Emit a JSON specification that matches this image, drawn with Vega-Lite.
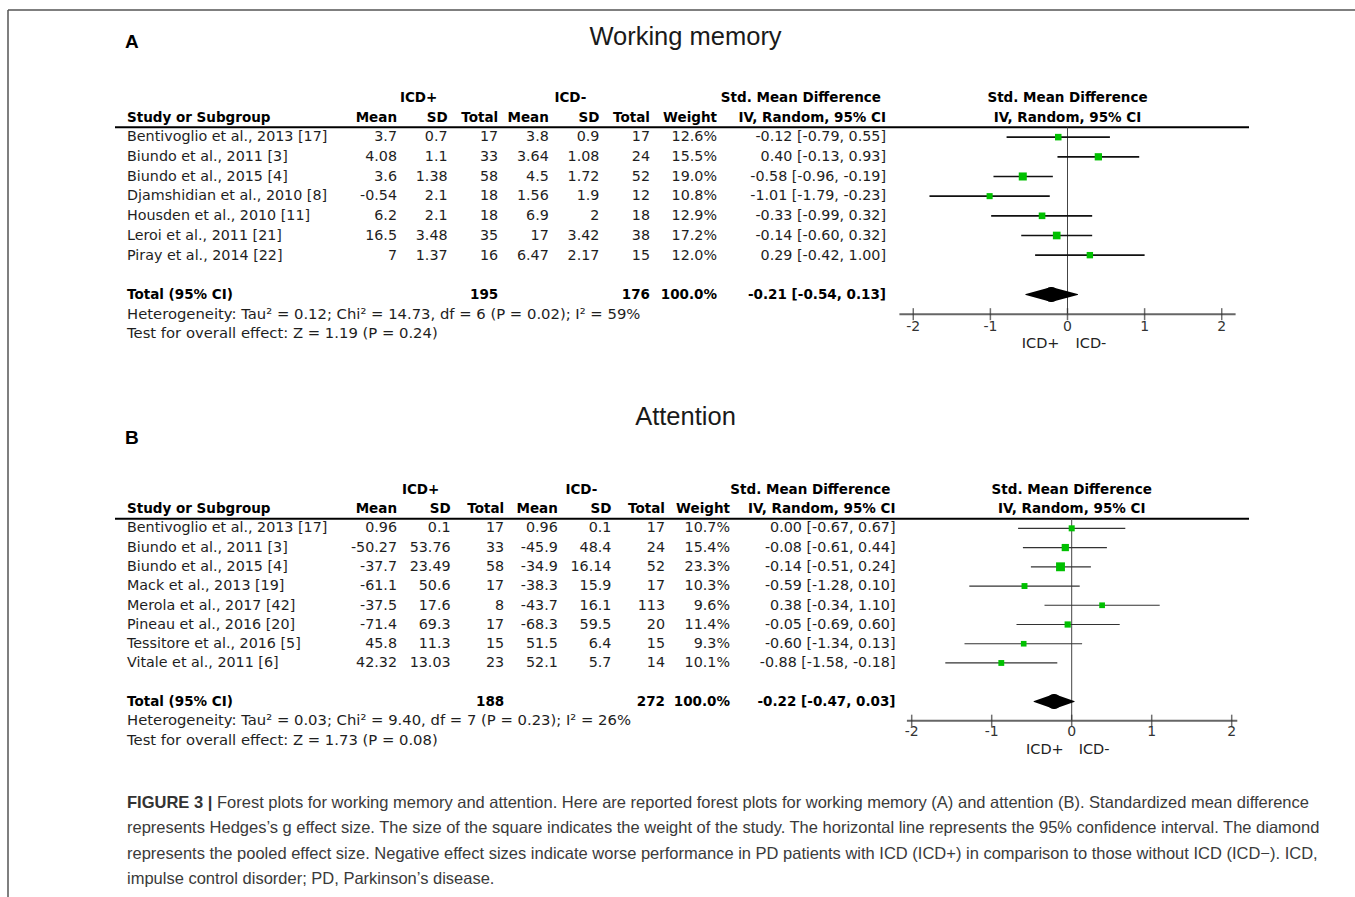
{
"$schema": "https://vega.github.io/schema/vega-lite/v6.json",
"width": 1347, "height": 887,
"autosize": {"type": "none"},
"padding": {"left": 8, "top": 10, "right": 0, "bottom": 0},
"background": "white",
"datasets": {
"tabA": [
{"r":"h1","sd1":"ICD+","sd2":"ICD-","ci":"Std. Mean Difference","fp":"Std. Mean Difference"},
{"r":"h2","study":"Study or Subgroup","m1":"Mean","sd1":"SD","n1":"Total","m2":"Mean","sd2":"SD","n2":"Total","w":"Weight","ci":"IV, Random, 95% CI","fp":"IV, Random, 95% CI"},
{"r":"s1","study":"Bentivoglio et al., 2013 [17]","m1":"3.7","sd1":"0.7","n1":"17","m2":"3.8","sd2":"0.9","n2":"17","w":"12.6%","ci":"-0.12 [-0.79, 0.55]","est":-0.12,"lo":-0.79,"hi":0.55,"wt":12.6},
{"r":"s2","study":"Biundo et al., 2011 [3]","m1":"4.08","sd1":"1.1","n1":"33","m2":"3.64","sd2":"1.08","n2":"24","w":"15.5%","ci":"0.40 [-0.13, 0.93]","est":0.40,"lo":-0.13,"hi":0.93,"wt":15.5},
{"r":"s3","study":"Biundo et al., 2015 [4]","m1":"3.6","sd1":"1.38","n1":"58","m2":"4.5","sd2":"1.72","n2":"52","w":"19.0%","ci":"-0.58 [-0.96, -0.19]","est":-0.58,"lo":-0.96,"hi":-0.19,"wt":19.0},
{"r":"s4","study":"Djamshidian et al., 2010 [8]","m1":"-0.54","sd1":"2.1","n1":"18","m2":"1.56","sd2":"1.9","n2":"12","w":"10.8%","ci":"-1.01 [-1.79, -0.23]","est":-1.01,"lo":-1.79,"hi":-0.23,"wt":10.8},
{"r":"s5","study":"Housden et al., 2010 [11]","m1":"6.2","sd1":"2.1","n1":"18","m2":"6.9","sd2":"2","n2":"18","w":"12.9%","ci":"-0.33 [-0.99, 0.32]","est":-0.33,"lo":-0.99,"hi":0.32,"wt":12.9},
{"r":"s6","study":"Leroi et al., 2011 [21]","m1":"16.5","sd1":"3.48","n1":"35","m2":"17","sd2":"3.42","n2":"38","w":"17.2%","ci":"-0.14 [-0.60, 0.32]","est":-0.14,"lo":-0.60,"hi":0.32,"wt":17.2},
{"r":"s7","study":"Piray et al., 2014 [22]","m1":"7","sd1":"1.37","n1":"16","m2":"6.47","sd2":"2.17","n2":"15","w":"12.0%","ci":"0.29 [-0.42, 1.00]","est":0.29,"lo":-0.42,"hi":1.00,"wt":12.0},
{"r":"total","study":"Total (95% CI)","n1":"195","n2":"176","w":"100.0%","ci":"-0.21 [-0.54, 0.13]","est":-0.21,"lo":-0.54,"hi":0.13},
{"r":"het","study":"Heterogeneity: Tau² = 0.12; Chi² = 14.73, df = 6 (P = 0.02); I² = 59%"},
{"r":"test","study":"Test for overall effect: Z = 1.19 (P = 0.24)"}
],
"tabB": [
{"r":"h1","sd1":"ICD+","sd2":"ICD-","ci":"Std. Mean Difference","fp":"Std. Mean Difference"},
{"r":"h2","study":"Study or Subgroup","m1":"Mean","sd1":"SD","n1":"Total","m2":"Mean","sd2":"SD","n2":"Total","w":"Weight","ci":"IV, Random, 95% CI","fp":"IV, Random, 95% CI"},
{"r":"s1","study":"Bentivoglio et al., 2013 [17]","m1":"0.96","sd1":"0.1","n1":"17","m2":"0.96","sd2":"0.1","n2":"17","w":"10.7%","ci":"0.00 [-0.67, 0.67]","est":0.00,"lo":-0.67,"hi":0.67,"wt":10.7},
{"r":"s2","study":"Biundo et al., 2011 [3]","m1":"-50.27","sd1":"53.76","n1":"33","m2":"-45.9","sd2":"48.4","n2":"24","w":"15.4%","ci":"-0.08 [-0.61, 0.44]","est":-0.08,"lo":-0.61,"hi":0.44,"wt":15.4},
{"r":"s3","study":"Biundo et al., 2015 [4]","m1":"-37.7","sd1":"23.49","n1":"58","m2":"-34.9","sd2":"16.14","n2":"52","w":"23.3%","ci":"-0.14 [-0.51, 0.24]","est":-0.14,"lo":-0.51,"hi":0.24,"wt":23.3},
{"r":"s4","study":"Mack et al., 2013 [19]","m1":"-61.1","sd1":"50.6","n1":"17","m2":"-38.3","sd2":"15.9","n2":"17","w":"10.3%","ci":"-0.59 [-1.28, 0.10]","est":-0.59,"lo":-1.28,"hi":0.10,"wt":10.3},
{"r":"s5","study":"Merola et al., 2017 [42]","m1":"-37.5","sd1":"17.6","n1":"8","m2":"-43.7","sd2":"16.1","n2":"113","w":"9.6%","ci":"0.38 [-0.34, 1.10]","est":0.38,"lo":-0.34,"hi":1.10,"wt":9.6},
{"r":"s6","study":"Pineau et al., 2016 [20]","m1":"-71.4","sd1":"69.3","n1":"17","m2":"-68.3","sd2":"59.5","n2":"20","w":"11.4%","ci":"-0.05 [-0.69, 0.60]","est":-0.05,"lo":-0.69,"hi":0.60,"wt":11.4},
{"r":"s7","study":"Tessitore et al., 2016 [5]","m1":"45.8","sd1":"11.3","n1":"15","m2":"51.5","sd2":"6.4","n2":"15","w":"9.3%","ci":"-0.60 [-1.34, 0.13]","est":-0.60,"lo":-1.34,"hi":0.13,"wt":9.3},
{"r":"s8","study":"Vitale et al., 2011 [6]","m1":"42.32","sd1":"13.03","n1":"23","m2":"52.1","sd2":"5.7","n2":"14","w":"10.1%","ci":"-0.88 [-1.58, -0.18]","est":-0.88,"lo":-1.58,"hi":-0.18,"wt":10.1},
{"r":"total","study":"Total (95% CI)","n1":"188","n2":"272","w":"100.0%","ci":"-0.22 [-0.47, 0.03]","est":-0.22,"lo":-0.47,"hi":0.03},
{"r":"het","study":"Heterogeneity: Tau² = 0.03; Chi² = 9.40, df = 7 (P = 0.23); I² = 26%"},
{"r":"test","study":"Test for overall effect: Z = 1.73 (P = 0.08)"}
],
"ticks": [{"v":-2,"lab":"-2"},{"v":-1,"lab":"-1"},{"v":0,"lab":"0"},{"v":1,"lab":"1"},{"v":2,"lab":"2"}],
"dir": [{"side":"neg","t":"ICD+"},{"side":"pos","t":"ICD-"}],
"titles": [{"p":"A","letter":"A","title":"Working memory"},{"p":"B","letter":"B","title":"Attention"}],
"caption": [
{"ln":"l1","seg":"lead","t":"FIGURE 3 |"},
{"ln":"l1","seg":"body","t":"Forest plots for working memory and attention. Here are reported forest plots for working memory (A) and attention (B). Standardized mean difference"},
{"ln":"l2","seg":"body","t":"represents Hedges’s g effect size. The size of the square indicates the weight of the study. The horizontal line represents the 95% confidence interval. The diamond"},
{"ln":"l3","seg":"body","t":"represents the pooled effect size. Negative effect sizes indicate worse performance in PD patients with ICD (ICD+) in comparison to those without ICD (ICD−). ICD,"},
{"ln":"l4","seg":"body","t":"impulse control disorder; PD, Parkinson’s disease."}
]
},
"resolve": {"scale": {"x": "independent", "y": "independent", "size": "independent"}},
"layer": [
{"data":{"name":"titles"},"transform":[{"filter":{"field":"p","equal":"A"}}],
 "mark":{"type":"rule","color":"#555","strokeWidth":1.5},
 "encoding":{"x":{"value":0},"x2":{"value":"width"},"y":{"value":0}}},
{"data":{"name":"titles"},"transform":[{"filter":{"field":"p","equal":"A"}}],
 "mark":{"type":"rule","color":"#555","strokeWidth":1.5},
 "encoding":{"x":{"value":0},"y":{"value":0},"y2":{"value":"height"}}},
{"data":{"name":"titles"},
 "mark":{"type":"text","align":"center","baseline":"middle","font":"Liberation Sans","fontSize":25.5,"color":"#1a1a1a","dx":4},
 "encoding":{"y":{"field":"p","type":"nominal","scale":{"type":"point","domain":["A","B"],"range":[27,407],"padding":0}},"text":{"field":"title"}}},
{"data":{"name":"titles"},
 "mark":{"type":"text","align":"left","baseline":"middle","font":"Liberation Sans","fontSize":19,"fontWeight":"bold","color":"#000","dx":-2},
 "encoding":{"x":{"datum":"study","type":"nominal","scale":{"type":"point","domain":["study"],"range":[119,119],"padding":0}},
  "y":{"field":"p","type":"nominal","scale":{"type":"point","domain":["A","B"],"range":[32,428],"padding":0}},"text":{"field":"letter"}}},

{"data":{"name":"tabA"},"transform":[{"filter":{"field":"r","oneOf":["s1","s2","s3","s4","s5","s6","s7"]}}],
 "mark":{"type":"text","align":"left","baseline":"middle","font":"DejaVu Sans","fontSize":14.3,"color":"#1e1e1e"},
 "encoding":{"x":{"datum":"study","type":"nominal","scale":{"type":"point","domain":["study"],"range":[119,119],"padding":0}},
  "y":{"field":"r","type":"nominal","scale":{"type":"point","domain":["h1","h2","s1","s2","s3","s4","s5","s6","s7","gap","total","het","test"],"range":[88,324.3],"padding":0}},
  "text":{"field":"study"}}},
{"data":{"name":"tabA"},"transform":[{"filter":{"field":"r","oneOf":["het","test"]}}],
 "mark":{"type":"text","align":"left","baseline":"middle","font":"DejaVu Sans","fontSize":14.8,"color":"#1e1e1e"},
 "encoding":{"x":{"datum":"study","type":"nominal","scale":{"type":"point","domain":["study"],"range":[119,119],"padding":0}},
  "y":{"field":"r","type":"nominal","scale":{"type":"point","domain":["h1","h2","s1","s2","s3","s4","s5","s6","s7","gap","total","het","test"],"range":[88,324.3],"padding":0}},
  "text":{"field":"study"}}},
{"data":{"name":"tabA"},"transform":[{"filter":{"field":"r","oneOf":["h2","total"]}}],
 "mark":{"type":"text","align":"left","baseline":"middle","font":"DejaVu Sans","fontSize":13.5,"fontWeight":"bold","color":"#000"},
 "encoding":{"x":{"datum":"study","type":"nominal","scale":{"type":"point","domain":["study"],"range":[119,119],"padding":0}},
  "y":{"field":"r","type":"nominal","scale":{"type":"point","domain":["h1","h2","s1","s2","s3","s4","s5","s6","s7","gap","total","het","test"],"range":[88,324.3],"padding":0}},
  "text":{"field":"study"}}},
{"data":{"name":"tabA"},"transform":[{"filter":{"field":"r","oneOf":["s1","s2","s3","s4","s5","s6","s7"]}},{"fold":["m1","sd1","n1","m2","sd2","n2"],"as":["c","t"]},{"filter":"datum.t != null"}],
 "mark":{"type":"text","align":"right","baseline":"middle","font":"DejaVu Sans","fontSize":14.3,"color":"#1e1e1e"},
 "encoding":{"x":{"field":"c","type":"nominal","scale":{"type":"point","domain":["m1","sd1","n1","m2","sd2","n2"],"range":[389,642],"padding":0}},
  "y":{"field":"r","type":"nominal","scale":{"type":"point","domain":["h1","h2","s1","s2","s3","s4","s5","s6","s7","gap","total","het","test"],"range":[88,324.3],"padding":0}},
  "text":{"field":"t"}}},
{"data":{"name":"tabA"},"transform":[{"filter":{"field":"r","oneOf":["h2","total"]}},{"fold":["m1","sd1","n1","m2","sd2","n2"],"as":["c","t"]},{"filter":"datum.t != null"}],
 "mark":{"type":"text","align":"right","baseline":"middle","font":"DejaVu Sans","fontSize":13.5,"fontWeight":"bold","color":"#000"},
 "encoding":{"x":{"field":"c","type":"nominal","scale":{"type":"point","domain":["m1","sd1","n1","m2","sd2","n2"],"range":[389,642],"padding":0}},
  "y":{"field":"r","type":"nominal","scale":{"type":"point","domain":["h1","h2","s1","s2","s3","s4","s5","s6","s7","gap","total","het","test"],"range":[88,324.3],"padding":0}},
  "text":{"field":"t"}}},
{"data":{"name":"tabA"},"transform":[{"filter":{"field":"r","equal":"h1"}},{"fold":["sd1","sd2"],"as":["c","t"]},{"filter":"datum.t != null"}],
 "mark":{"type":"text","align":"center","baseline":"middle","font":"DejaVu Sans","fontSize":13.5,"fontWeight":"bold","color":"#000","dx":-29},
 "encoding":{"x":{"field":"c","type":"nominal","scale":{"type":"point","domain":["m1","sd1","n1","m2","sd2","n2"],"range":[389,642],"padding":0}},
  "y":{"field":"r","type":"nominal","scale":{"type":"point","domain":["h1","h2","s1","s2","s3","s4","s5","s6","s7","gap","total","het","test"],"range":[88,324.3],"padding":0}},
  "text":{"field":"t"}}},
{"data":{"name":"tabA"},"transform":[{"filter":{"field":"r","oneOf":["s1","s2","s3","s4","s5","s6","s7"]}},{"fold":["w","ci"],"as":["c","t"]},{"filter":"datum.t != null"}],
 "mark":{"type":"text","align":"right","baseline":"middle","font":"DejaVu Sans","fontSize":14.3,"color":"#1e1e1e"},
 "encoding":{"x":{"field":"c","type":"nominal","scale":{"type":"point","domain":["w","ci"],"range":[709,878],"padding":0}},
  "y":{"field":"r","type":"nominal","scale":{"type":"point","domain":["h1","h2","s1","s2","s3","s4","s5","s6","s7","gap","total","het","test"],"range":[88,324.3],"padding":0}},
  "text":{"field":"t"}}},
{"data":{"name":"tabA"},"transform":[{"filter":{"field":"r","oneOf":["h2","total"]}},{"fold":["w","ci"],"as":["c","t"]},{"filter":"datum.t != null"}],
 "mark":{"type":"text","align":"right","baseline":"middle","font":"DejaVu Sans","fontSize":13.5,"fontWeight":"bold","color":"#000"},
 "encoding":{"x":{"field":"c","type":"nominal","scale":{"type":"point","domain":["w","ci"],"range":[709,878],"padding":0}},
  "y":{"field":"r","type":"nominal","scale":{"type":"point","domain":["h1","h2","s1","s2","s3","s4","s5","s6","s7","gap","total","het","test"],"range":[88,324.3],"padding":0}},
  "text":{"field":"t"}}},
{"data":{"name":"tabA"},"transform":[{"filter":{"field":"r","equal":"h1"}}],
 "mark":{"type":"text","align":"right","baseline":"middle","font":"DejaVu Sans","fontSize":13.5,"fontWeight":"bold","color":"#000","dx":-5},
 "encoding":{"x":{"datum":"ci","type":"nominal","scale":{"type":"point","domain":["w","ci"],"range":[709,878],"padding":0}},
  "y":{"field":"r","type":"nominal","scale":{"type":"point","domain":["h1","h2","s1","s2","s3","s4","s5","s6","s7","gap","total","het","test"],"range":[88,324.3],"padding":0}},
  "text":{"field":"ci"}}},
{"data":{"name":"tabA"},"transform":[{"filter":{"field":"r","oneOf":["h1","h2"]}}],
 "mark":{"type":"text","align":"center","baseline":"middle","font":"DejaVu Sans","fontSize":13.5,"fontWeight":"bold","color":"#000"},
 "encoding":{"x":{"datum":0,"type":"quantitative","scale":{"domain":[-2.18,2.18],"range":[891.4,1227.6],"nice":false,"zero":false}},
  "y":{"field":"r","type":"nominal","scale":{"type":"point","domain":["h1","h2","s1","s2","s3","s4","s5","s6","s7","gap","total","het","test"],"range":[88,324.3],"padding":0}},
  "text":{"field":"fp"}}},
{"data":{"name":"tabA"},"transform":[{"filter":{"field":"r","equal":"h1"}}],
 "mark":{"type":"rule","color":"#000","strokeWidth":2},
 "encoding":{"x":{"datum":"l","type":"nominal","scale":{"type":"point","domain":["l","r"],"range":[107,1241],"padding":0}},"x2":{"datum":"r"},
  "y":{"datum":"s1","type":"nominal","bandPosition":0,"scale":{"type":"band","domain":["s1","s2","s3","s4","s5","s6","s7","gap","total","axis"],"range":[117.3,314],"paddingInner":0,"paddingOuter":0}}}},
{"data":{"name":"tabA"},"transform":[{"filter":{"field":"r","equal":"h1"}}],
 "mark":{"type":"rule","color":"#444","strokeWidth":1},
 "encoding":{"x":{"datum":0,"type":"quantitative","scale":{"domain":[-2.18,2.18],"range":[891.4,1227.6],"nice":false,"zero":false}},
  "y":{"datum":"s1","type":"nominal","bandPosition":0,"scale":{"type":"band","domain":["s1","s2","s3","s4","s5","s6","s7","gap","total","axis"],"range":[117.3,314],"paddingInner":0,"paddingOuter":0}},
  "y2":{"datum":"axis"}}},
{"data":{"name":"tabA"},"transform":[{"filter":{"field":"r","oneOf":["s1","s2","s3","s4","s5","s6","s7"]}}],
 "mark":{"type":"rule","color":"#111","strokeWidth":1.7},
 "encoding":{"x":{"field":"lo","type":"quantitative","scale":{"domain":[-2.18,2.18],"range":[891.4,1227.6],"nice":false,"zero":false}},"x2":{"field":"hi"},
  "y":{"field":"r","type":"nominal","scale":{"type":"band","domain":["s1","s2","s3","s4","s5","s6","s7","gap","total","axis"],"range":[117.3,314],"paddingInner":0,"paddingOuter":0}}}},
{"data":{"name":"tabA"},"transform":[{"filter":{"field":"r","oneOf":["s1","s2","s3","s4","s5","s6","s7"]}}],
 "mark":{"type":"point","shape":"square","filled":true,"color":"#00c000","opacity":1},
 "encoding":{"x":{"field":"est","type":"quantitative","scale":{"domain":[-2.18,2.18],"range":[891.4,1227.6],"nice":false,"zero":false}},
  "y":{"field":"r","type":"nominal","scale":{"type":"band","domain":["s1","s2","s3","s4","s5","s6","s7","gap","total","axis"],"range":[117.3,314],"paddingInner":0,"paddingOuter":0}},
  "size":{"field":"wt","type":"quantitative","scale":{"domain":[0,25],"range":[0,85]}}}},
{"data":{"name":"tabA"},"transform":[{"filter":{"field":"r","equal":"total"}},{"fold":["lo","est"],"as":["k","v"]}],
 "mark":{"type":"trail","color":"#000"},
 "encoding":{"x":{"field":"v","type":"quantitative","scale":{"domain":[-2.18,2.18],"range":[891.4,1227.6],"nice":false,"zero":false}},
  "y":{"field":"r","type":"nominal","scale":{"type":"band","domain":["s1","s2","s3","s4","s5","s6","s7","gap","total","axis"],"range":[117.3,314],"paddingInner":0,"paddingOuter":0}},
  "size":{"field":"k","type":"ordinal","scale":{"type":"point","domain":["lo","est"],"range":[0,15],"padding":0}},
  "order":{"field":"v","type":"quantitative"}}},
{"data":{"name":"tabA"},"transform":[{"filter":{"field":"r","equal":"total"}},{"fold":["est","hi"],"as":["k","v"]}],
 "mark":{"type":"trail","color":"#000"},
 "encoding":{"x":{"field":"v","type":"quantitative","scale":{"domain":[-2.18,2.18],"range":[891.4,1227.6],"nice":false,"zero":false}},
  "y":{"field":"r","type":"nominal","scale":{"type":"band","domain":["s1","s2","s3","s4","s5","s6","s7","gap","total","axis"],"range":[117.3,314],"paddingInner":0,"paddingOuter":0}},
  "size":{"field":"k","type":"ordinal","scale":{"type":"point","domain":["hi","est"],"range":[0,15],"padding":0}},
  "order":{"field":"v","type":"quantitative"}}},
{"data":{"name":"tabA"},"transform":[{"filter":{"field":"r","equal":"h1"}}],
 "mark":{"type":"rule","color":"#666","strokeWidth":2},
 "encoding":{"x":{"datum":-2.18,"type":"quantitative","scale":{"domain":[-2.18,2.18],"range":[891.4,1227.6],"nice":false,"zero":false}},"x2":{"datum":2.18},
  "y":{"datum":"axis","type":"nominal","scale":{"type":"band","domain":["s1","s2","s3","s4","s5","s6","s7","gap","total","axis"],"range":[117.3,314],"paddingInner":0,"paddingOuter":0}}}},
{"data":{"name":"ticks"},
 "mark":{"type":"tick","color":"#333","size":12,"thickness":1.5},
 "encoding":{"x":{"field":"v","type":"quantitative","scale":{"domain":[-2.18,2.18],"range":[891.4,1227.6],"nice":false,"zero":false}},
  "y":{"datum":"axis","type":"nominal","scale":{"type":"band","domain":["s1","s2","s3","s4","s5","s6","s7","gap","total","axis"],"range":[117.3,314],"paddingInner":0,"paddingOuter":0}}}},
{"data":{"name":"ticks"},
 "mark":{"type":"text","align":"center","baseline":"middle","font":"DejaVu Sans","fontSize":14,"color":"#333","dy":13},
 "encoding":{"x":{"field":"v","type":"quantitative","scale":{"domain":[-2.18,2.18],"range":[891.4,1227.6],"nice":false,"zero":false}},
  "y":{"datum":"axis","type":"nominal","scale":{"type":"band","domain":["s1","s2","s3","s4","s5","s6","s7","gap","total","axis"],"range":[117.3,314],"paddingInner":0,"paddingOuter":0}},
  "text":{"field":"lab"}}},
{"data":{"name":"dir"},"transform":[{"filter":{"field":"side","equal":"neg"}}],
 "mark":{"type":"text","align":"right","baseline":"middle","font":"DejaVu Sans","fontSize":14.5,"color":"#222","dy":30,"dx":-8},
 "encoding":{"x":{"datum":0,"type":"quantitative","scale":{"domain":[-2.18,2.18],"range":[891.4,1227.6],"nice":false,"zero":false}},
  "y":{"datum":"axis","type":"nominal","scale":{"type":"band","domain":["s1","s2","s3","s4","s5","s6","s7","gap","total","axis"],"range":[117.3,314],"paddingInner":0,"paddingOuter":0}},
  "text":{"field":"t"}}},
{"data":{"name":"dir"},"transform":[{"filter":{"field":"side","equal":"pos"}}],
 "mark":{"type":"text","align":"left","baseline":"middle","font":"DejaVu Sans","fontSize":14.5,"color":"#222","dy":30,"dx":8},
 "encoding":{"x":{"datum":0,"type":"quantitative","scale":{"domain":[-2.18,2.18],"range":[891.4,1227.6],"nice":false,"zero":false}},
  "y":{"datum":"axis","type":"nominal","scale":{"type":"band","domain":["s1","s2","s3","s4","s5","s6","s7","gap","total","axis"],"range":[117.3,314],"paddingInner":0,"paddingOuter":0}},
  "text":{"field":"t"}}},

{"data":{"name":"tabB"},"transform":[{"filter":{"field":"r","oneOf":["s1","s2","s3","s4","s5","s6","s7","s8"]}}],
 "mark":{"type":"text","align":"left","baseline":"middle","font":"DejaVu Sans","fontSize":14.3,"color":"#1e1e1e"},
 "encoding":{"x":{"datum":"study","type":"nominal","scale":{"type":"point","domain":["study"],"range":[119,119],"padding":0}},
  "y":{"field":"r","type":"nominal","scale":{"type":"point","domain":["h1","h2","s1","s2","s3","s4","s5","s6","s7","s8","gap","total","het","test"],"range":[479.7,730.6],"padding":0}},
  "text":{"field":"study"}}},
{"data":{"name":"tabB"},"transform":[{"filter":{"field":"r","oneOf":["het","test"]}}],
 "mark":{"type":"text","align":"left","baseline":"middle","font":"DejaVu Sans","fontSize":14.8,"color":"#1e1e1e"},
 "encoding":{"x":{"datum":"study","type":"nominal","scale":{"type":"point","domain":["study"],"range":[119,119],"padding":0}},
  "y":{"field":"r","type":"nominal","scale":{"type":"point","domain":["h1","h2","s1","s2","s3","s4","s5","s6","s7","s8","gap","total","het","test"],"range":[479.7,730.6],"padding":0}},
  "text":{"field":"study"}}},
{"data":{"name":"tabB"},"transform":[{"filter":{"field":"r","oneOf":["h2","total"]}}],
 "mark":{"type":"text","align":"left","baseline":"middle","font":"DejaVu Sans","fontSize":13.5,"fontWeight":"bold","color":"#000"},
 "encoding":{"x":{"datum":"study","type":"nominal","scale":{"type":"point","domain":["study"],"range":[119,119],"padding":0}},
  "y":{"field":"r","type":"nominal","scale":{"type":"point","domain":["h1","h2","s1","s2","s3","s4","s5","s6","s7","s8","gap","total","het","test"],"range":[479.7,730.6],"padding":0}},
  "text":{"field":"study"}}},
{"data":{"name":"tabB"},"transform":[{"filter":{"field":"r","oneOf":["s1","s2","s3","s4","s5","s6","s7","s8"]}},{"fold":["m1","sd1","n1","m2","sd2","n2"],"as":["c","t"]},{"filter":"datum.t != null"}],
 "mark":{"type":"text","align":"right","baseline":"middle","font":"DejaVu Sans","fontSize":14.3,"color":"#1e1e1e"},
 "encoding":{"x":{"field":"c","type":"nominal","scale":{"type":"point","domain":["m1","sd1","n1","m2","sd2","n2"],"range":[389,657],"padding":0}},
  "y":{"field":"r","type":"nominal","scale":{"type":"point","domain":["h1","h2","s1","s2","s3","s4","s5","s6","s7","s8","gap","total","het","test"],"range":[479.7,730.6],"padding":0}},
  "text":{"field":"t"}}},
{"data":{"name":"tabB"},"transform":[{"filter":{"field":"r","oneOf":["h2","total"]}},{"fold":["m1","sd1","n1","m2","sd2","n2"],"as":["c","t"]},{"filter":"datum.t != null"}],
 "mark":{"type":"text","align":"right","baseline":"middle","font":"DejaVu Sans","fontSize":13.5,"fontWeight":"bold","color":"#000"},
 "encoding":{"x":{"field":"c","type":"nominal","scale":{"type":"point","domain":["m1","sd1","n1","m2","sd2","n2"],"range":[389,657],"padding":0}},
  "y":{"field":"r","type":"nominal","scale":{"type":"point","domain":["h1","h2","s1","s2","s3","s4","s5","s6","s7","s8","gap","total","het","test"],"range":[479.7,730.6],"padding":0}},
  "text":{"field":"t"}}},
{"data":{"name":"tabB"},"transform":[{"filter":{"field":"r","equal":"h1"}},{"fold":["sd1","sd2"],"as":["c","t"]},{"filter":"datum.t != null"}],
 "mark":{"type":"text","align":"center","baseline":"middle","font":"DejaVu Sans","fontSize":13.5,"fontWeight":"bold","color":"#000","dx":-30},
 "encoding":{"x":{"field":"c","type":"nominal","scale":{"type":"point","domain":["m1","sd1","n1","m2","sd2","n2"],"range":[389,657],"padding":0}},
  "y":{"field":"r","type":"nominal","scale":{"type":"point","domain":["h1","h2","s1","s2","s3","s4","s5","s6","s7","s8","gap","total","het","test"],"range":[479.7,730.6],"padding":0}},
  "text":{"field":"t"}}},
{"data":{"name":"tabB"},"transform":[{"filter":{"field":"r","oneOf":["s1","s2","s3","s4","s5","s6","s7","s8"]}},{"fold":["w","ci"],"as":["c","t"]},{"filter":"datum.t != null"}],
 "mark":{"type":"text","align":"right","baseline":"middle","font":"DejaVu Sans","fontSize":14.3,"color":"#1e1e1e"},
 "encoding":{"x":{"field":"c","type":"nominal","scale":{"type":"point","domain":["w","ci"],"range":[722,887.5],"padding":0}},
  "y":{"field":"r","type":"nominal","scale":{"type":"point","domain":["h1","h2","s1","s2","s3","s4","s5","s6","s7","s8","gap","total","het","test"],"range":[479.7,730.6],"padding":0}},
  "text":{"field":"t"}}},
{"data":{"name":"tabB"},"transform":[{"filter":{"field":"r","oneOf":["h2","total"]}},{"fold":["w","ci"],"as":["c","t"]},{"filter":"datum.t != null"}],
 "mark":{"type":"text","align":"right","baseline":"middle","font":"DejaVu Sans","fontSize":13.5,"fontWeight":"bold","color":"#000"},
 "encoding":{"x":{"field":"c","type":"nominal","scale":{"type":"point","domain":["w","ci"],"range":[722,887.5],"padding":0}},
  "y":{"field":"r","type":"nominal","scale":{"type":"point","domain":["h1","h2","s1","s2","s3","s4","s5","s6","s7","s8","gap","total","het","test"],"range":[479.7,730.6],"padding":0}},
  "text":{"field":"t"}}},
{"data":{"name":"tabB"},"transform":[{"filter":{"field":"r","equal":"h1"}}],
 "mark":{"type":"text","align":"right","baseline":"middle","font":"DejaVu Sans","fontSize":13.5,"fontWeight":"bold","color":"#000","dx":-5},
 "encoding":{"x":{"datum":"ci","type":"nominal","scale":{"type":"point","domain":["w","ci"],"range":[722,887.5],"padding":0}},
  "y":{"field":"r","type":"nominal","scale":{"type":"point","domain":["h1","h2","s1","s2","s3","s4","s5","s6","s7","s8","gap","total","het","test"],"range":[479.7,730.6],"padding":0}},
  "text":{"field":"ci"}}},
{"data":{"name":"tabB"},"transform":[{"filter":{"field":"r","oneOf":["h1","h2"]}}],
 "mark":{"type":"text","align":"center","baseline":"middle","font":"DejaVu Sans","fontSize":13.5,"fontWeight":"bold","color":"#000"},
 "encoding":{"x":{"datum":0,"type":"quantitative","scale":{"domain":[-2.06,2.07],"range":[898.9,1229.3],"nice":false,"zero":false}},
  "y":{"field":"r","type":"nominal","scale":{"type":"point","domain":["h1","h2","s1","s2","s3","s4","s5","s6","s7","s8","gap","total","het","test"],"range":[479.7,730.6],"padding":0}},
  "text":{"field":"fp"}}},
{"data":{"name":"tabB"},"transform":[{"filter":{"field":"r","equal":"h1"}}],
 "mark":{"type":"rule","color":"#000","strokeWidth":2},
 "encoding":{"x":{"datum":"l","type":"nominal","scale":{"type":"point","domain":["l","r"],"range":[107,1241],"padding":0}},"x2":{"datum":"r"},
  "y":{"datum":"s1","type":"nominal","bandPosition":0,"scale":{"type":"band","domain":["s1","s2","s3","s4","s5","s6","s7","s8","gap","total","axis"],"range":[508.7,720.3],"paddingInner":0,"paddingOuter":0}}}},
{"data":{"name":"tabB"},"transform":[{"filter":{"field":"r","equal":"h1"}}],
 "mark":{"type":"rule","color":"#444","strokeWidth":1},
 "encoding":{"x":{"datum":0,"type":"quantitative","scale":{"domain":[-2.06,2.07],"range":[898.9,1229.3],"nice":false,"zero":false}},
  "y":{"datum":"s1","type":"nominal","bandPosition":0,"scale":{"type":"band","domain":["s1","s2","s3","s4","s5","s6","s7","s8","gap","total","axis"],"range":[508.7,720.3],"paddingInner":0,"paddingOuter":0}},
  "y2":{"datum":"axis"}}},
{"data":{"name":"tabB"},"transform":[{"filter":{"field":"r","oneOf":["s1","s2","s3","s4","s5","s6","s7","s8"]}}],
 "mark":{"type":"rule","color":"#333","strokeWidth":1.2},
 "encoding":{"x":{"field":"lo","type":"quantitative","scale":{"domain":[-2.06,2.07],"range":[898.9,1229.3],"nice":false,"zero":false}},"x2":{"field":"hi"},
  "y":{"field":"r","type":"nominal","scale":{"type":"band","domain":["s1","s2","s3","s4","s5","s6","s7","s8","gap","total","axis"],"range":[508.7,720.3],"paddingInner":0,"paddingOuter":0}}}},
{"data":{"name":"tabB"},"transform":[{"filter":{"field":"r","oneOf":["s1","s2","s3","s4","s5","s6","s7","s8"]}}],
 "mark":{"type":"point","shape":"square","filled":true,"color":"#00c000","opacity":1},
 "encoding":{"x":{"field":"est","type":"quantitative","scale":{"domain":[-2.06,2.07],"range":[898.9,1229.3],"nice":false,"zero":false}},
  "y":{"field":"r","type":"nominal","scale":{"type":"band","domain":["s1","s2","s3","s4","s5","s6","s7","s8","gap","total","axis"],"range":[508.7,720.3],"paddingInner":0,"paddingOuter":0}},
  "size":{"field":"wt","type":"quantitative","scale":{"domain":[0,25],"range":[0,85]}}}},
{"data":{"name":"tabB"},"transform":[{"filter":{"field":"r","equal":"total"}},{"fold":["lo","est"],"as":["k","v"]}],
 "mark":{"type":"trail","color":"#000"},
 "encoding":{"x":{"field":"v","type":"quantitative","scale":{"domain":[-2.06,2.07],"range":[898.9,1229.3],"nice":false,"zero":false}},
  "y":{"field":"r","type":"nominal","scale":{"type":"band","domain":["s1","s2","s3","s4","s5","s6","s7","s8","gap","total","axis"],"range":[508.7,720.3],"paddingInner":0,"paddingOuter":0}},
  "size":{"field":"k","type":"ordinal","scale":{"type":"point","domain":["lo","est"],"range":[0,15],"padding":0}},
  "order":{"field":"v","type":"quantitative"}}},
{"data":{"name":"tabB"},"transform":[{"filter":{"field":"r","equal":"total"}},{"fold":["est","hi"],"as":["k","v"]}],
 "mark":{"type":"trail","color":"#000"},
 "encoding":{"x":{"field":"v","type":"quantitative","scale":{"domain":[-2.06,2.07],"range":[898.9,1229.3],"nice":false,"zero":false}},
  "y":{"field":"r","type":"nominal","scale":{"type":"band","domain":["s1","s2","s3","s4","s5","s6","s7","s8","gap","total","axis"],"range":[508.7,720.3],"paddingInner":0,"paddingOuter":0}},
  "size":{"field":"k","type":"ordinal","scale":{"type":"point","domain":["hi","est"],"range":[0,15],"padding":0}},
  "order":{"field":"v","type":"quantitative"}}},
{"data":{"name":"tabB"},"transform":[{"filter":{"field":"r","equal":"h1"}}],
 "mark":{"type":"rule","color":"#666","strokeWidth":2},
 "encoding":{"x":{"datum":-2.06,"type":"quantitative","scale":{"domain":[-2.06,2.07],"range":[898.9,1229.3],"nice":false,"zero":false}},"x2":{"datum":2.07},
  "y":{"datum":"axis","type":"nominal","scale":{"type":"band","domain":["s1","s2","s3","s4","s5","s6","s7","s8","gap","total","axis"],"range":[508.7,720.3],"paddingInner":0,"paddingOuter":0}}}},
{"data":{"name":"ticks"},
 "mark":{"type":"tick","color":"#333","size":12,"thickness":1.5},
 "encoding":{"x":{"field":"v","type":"quantitative","scale":{"domain":[-2.06,2.07],"range":[898.9,1229.3],"nice":false,"zero":false}},
  "y":{"datum":"axis","type":"nominal","scale":{"type":"band","domain":["s1","s2","s3","s4","s5","s6","s7","s8","gap","total","axis"],"range":[508.7,720.3],"paddingInner":0,"paddingOuter":0}}}},
{"data":{"name":"ticks"},
 "mark":{"type":"text","align":"center","baseline":"middle","font":"DejaVu Sans","fontSize":14,"color":"#333","dy":11},
 "encoding":{"x":{"field":"v","type":"quantitative","scale":{"domain":[-2.06,2.07],"range":[898.9,1229.3],"nice":false,"zero":false}},
  "y":{"datum":"axis","type":"nominal","scale":{"type":"band","domain":["s1","s2","s3","s4","s5","s6","s7","s8","gap","total","axis"],"range":[508.7,720.3],"paddingInner":0,"paddingOuter":0}},
  "text":{"field":"lab"}}},
{"data":{"name":"dir"},"transform":[{"filter":{"field":"side","equal":"neg"}}],
 "mark":{"type":"text","align":"right","baseline":"middle","font":"DejaVu Sans","fontSize":14.5,"color":"#222","dy":29,"dx":-8},
 "encoding":{"x":{"datum":0,"type":"quantitative","scale":{"domain":[-2.06,2.07],"range":[898.9,1229.3],"nice":false,"zero":false}},
  "y":{"datum":"axis","type":"nominal","scale":{"type":"band","domain":["s1","s2","s3","s4","s5","s6","s7","s8","gap","total","axis"],"range":[508.7,720.3],"paddingInner":0,"paddingOuter":0}},
  "text":{"field":"t"}}},
{"data":{"name":"dir"},"transform":[{"filter":{"field":"side","equal":"pos"}}],
 "mark":{"type":"text","align":"left","baseline":"middle","font":"DejaVu Sans","fontSize":14.5,"color":"#222","dy":29,"dx":7},
 "encoding":{"x":{"datum":0,"type":"quantitative","scale":{"domain":[-2.06,2.07],"range":[898.9,1229.3],"nice":false,"zero":false}},
  "y":{"datum":"axis","type":"nominal","scale":{"type":"band","domain":["s1","s2","s3","s4","s5","s6","s7","s8","gap","total","axis"],"range":[508.7,720.3],"paddingInner":0,"paddingOuter":0}},
  "text":{"field":"t"}}},

{"data":{"name":"caption"},"transform":[{"filter":{"field":"seg","equal":"lead"}}],
 "mark":{"type":"text","align":"left","baseline":"middle","font":"Liberation Sans","fontSize":16.5,"fontWeight":"bold","color":"#333"},
 "encoding":{"x":{"datum":"study","type":"nominal","scale":{"type":"point","domain":["study"],"range":[119,119],"padding":0}},
  "y":{"field":"ln","type":"nominal","scale":{"type":"point","domain":["l1","l2","l3","l4"],"range":[793,869],"padding":0}},
  "text":{"field":"t"}}},
{"data":{"name":"caption"},"transform":[{"filter":"datum.ln == 'l1' && datum.seg == 'body'"}],
 "mark":{"type":"text","align":"left","baseline":"middle","font":"Liberation Sans","fontSize":16.5,"color":"#3a3a3a","dx":90},
 "encoding":{"x":{"datum":"study","type":"nominal","scale":{"type":"point","domain":["study"],"range":[119,119],"padding":0}},
  "y":{"field":"ln","type":"nominal","scale":{"type":"point","domain":["l1","l2","l3","l4"],"range":[793,869],"padding":0}},
  "text":{"field":"t"}}},
{"data":{"name":"caption"},"transform":[{"filter":"datum.ln != 'l1'"}],
 "mark":{"type":"text","align":"left","baseline":"middle","font":"Liberation Sans","fontSize":16.5,"color":"#3a3a3a"},
 "encoding":{"x":{"datum":"study","type":"nominal","scale":{"type":"point","domain":["study"],"range":[119,119],"padding":0}},
  "y":{"field":"ln","type":"nominal","scale":{"type":"point","domain":["l1","l2","l3","l4"],"range":[793,869],"padding":0}},
  "text":{"field":"t"}}}
],
"config": {"view": {"stroke": null}, "axis": {"disable": true}, "legend": {"disable": true}}
}
